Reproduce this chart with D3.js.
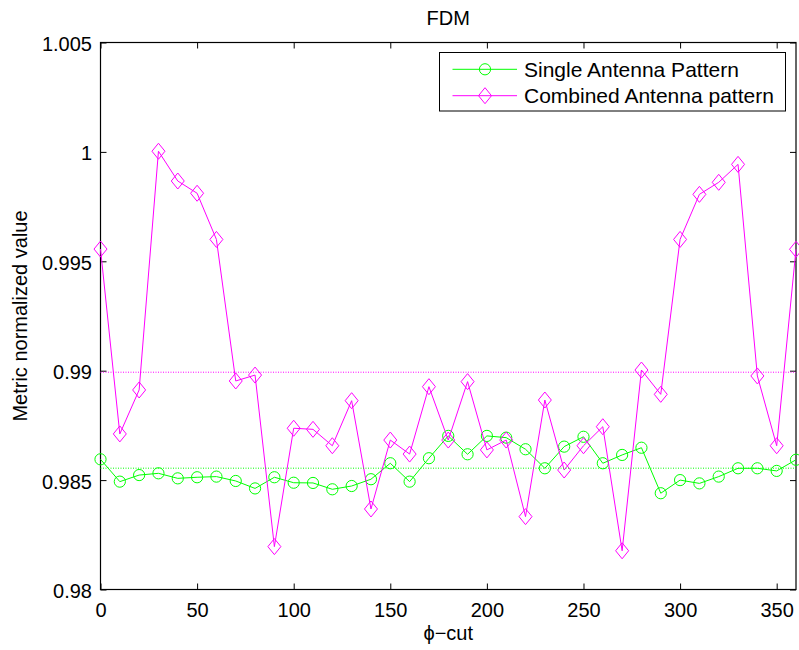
<!DOCTYPE html>
<html>
<head>
<meta charset="utf-8">
<script src="https://cdn.jsdelivr.net/npm/d3@7"></script>
<style>
  html, body { margin: 0; padding: 0; background: #fff; }
  svg { display: block; font-family: "Liberation Sans", Arial, Helvetica, sans-serif; }
</style>
</head>
<body>
<svg id="chart" width="799" height="650"></svg>
<script>
// phi-cut angles (degrees)
const phiCut = [0, 10, 20, 30, 40, 50, 60, 70, 80, 90, 100, 110, 120, 130, 140, 150, 160, 170, 180,
                190, 200, 210, 220, 230, 240, 250, 260, 270, 280, 290, 300, 310, 320, 330, 340, 350, 360];

// Normalized metric, single antenna pattern
const singlePattern = [0.98595, 0.98493, 0.98523, 0.98531, 0.98508, 0.98513, 0.98516, 0.98496, 0.98462,
                       0.98513, 0.98488, 0.98487, 0.98458, 0.98473, 0.98504, 0.98577, 0.98493, 0.98600,
                       0.98702, 0.98618, 0.98702, 0.98694, 0.98641, 0.98554, 0.98653, 0.98698, 0.98577,
                       0.98615, 0.98648, 0.98440, 0.98500, 0.98485, 0.98516, 0.98554, 0.98554, 0.98542,
                       0.98593];

// Normalized metric, combined antenna pattern
const combinedPattern = [0.99556, 0.98711, 0.98912, 1.00003, 0.99867, 0.99811, 0.99600, 0.98953, 0.98980,
                         0.98196, 0.98737, 0.98732, 0.98657, 0.98863, 0.98368, 0.98683, 0.98619, 0.98927,
                         0.98683, 0.98950, 0.98638, 0.98683, 0.98333, 0.98866, 0.98546, 0.98657, 0.98744,
                         0.98177, 0.99003, 0.98892, 0.99600, 0.99806, 0.99861, 0.99943, 0.98976, 0.98657,
                         0.99555];

const xTicks = [0, 50, 100, 150, 200, 250, 300, 350];
const yTicks = [0.98, 0.985, 0.99, 0.995, 1, 1.005];
const yTickLabels = ["0.98", "0.985", "0.99", "0.995", "1", "1.005"];

const seriesNames = ["Single Antenna Pattern", "Combined Antenna pattern"];
const seriesColors = ["#00ff00", "#ff00ff"];

const svg = d3.select("#chart");
const plotLeft = 100.5, plotRight = 796, plotTop = 42.5, plotBottom = 589.5;

const x = d3.scaleLinear().domain([0, 360]).range([plotLeft, plotRight]);
const y = d3.scaleLinear().domain([0.98, 1.005]).range([plotBottom, plotTop]);

const tickLen = 6;
const fontSize = 20;

// Axes box with inward ticks on all four sides
const axisBottom = d3.axisBottom(x).tickValues(xTicks).tickSize(-tickLen).tickFormat(d3.format("d"));
const axisTop = d3.axisTop(x).tickValues(xTicks).tickSize(-tickLen).tickFormat("");
const axisLeft = d3.axisLeft(y).tickValues(yTicks).tickSize(-tickLen)
  .tickFormat((d, i) => yTickLabels[i]);
const axisRight = d3.axisRight(y).tickValues(yTicks).tickSize(-tickLen).tickFormat("");

function styleAxis(g) {
  g.select(".domain").remove();
  g.selectAll(".tick line").attr("stroke", "#000").attr("stroke-width", 1);
  g.selectAll(".tick text").attr("fill", "#000").style("font-size", fontSize + "px")
    .style("font-family", "'Liberation Sans', Arial, sans-serif");
}

svg.append("rect").attr("x", plotLeft).attr("y", plotTop)
  .attr("width", plotRight - plotLeft).attr("height", plotBottom - plotTop).attr("fill", "#fff");

const gB = svg.append("g").attr("transform", `translate(0,${plotBottom})`).call(axisBottom).call(styleAxis);
gB.selectAll(".tick text").attr("dy", null).attr("y", 27);
svg.append("g").attr("transform", `translate(0,${plotTop})`).call(axisTop).call(styleAxis);
const gL = svg.append("g").attr("transform", `translate(${plotLeft},0)`).call(axisLeft).call(styleAxis);
gL.selectAll(".tick text").attr("dy", null).attr("y", 8).attr("x", -8.5);
svg.append("g").attr("transform", `translate(${plotRight},0)`).call(axisRight).call(styleAxis);

svg.append("rect").attr("x", plotLeft).attr("y", plotTop)
  .attr("width", plotRight - plotLeft).attr("height", plotBottom - plotTop)
  .attr("fill", "none").attr("stroke", "#000").attr("stroke-width", 1.2);

// Data
const series = [singlePattern, combinedPattern];
const line = d3.line().x((d, i) => x(phiCut[i])).y(d => y(d));

const diamond = (cx, cy) => `M${cx},${cy - 8}L${cx + 6.5},${cy}L${cx},${cy + 8}L${cx - 6.5},${cy}Z`;

function drawMarkers(g, values, k) {
  if (k === 0) {
    g.selectAll("circle").data(values).join("circle")
      .attr("cx", (d, i) => x(phiCut[i])).attr("cy", d => y(d)).attr("r", 5.6)
      .attr("fill", "none").attr("stroke", seriesColors[k]).attr("stroke-width", 1);
  } else {
    g.selectAll("path").data(values).join("path")
      .attr("d", (d, i) => diamond(x(phiCut[i]), y(d)))
      .attr("fill", "none").attr("stroke", seriesColors[k]).attr("stroke-width", 1);
  }
}

series.forEach((values, k) => {
  svg.append("path").datum(values).attr("d", line)
    .attr("fill", "none").attr("stroke", seriesColors[k]).attr("stroke-width", 1);
  drawMarkers(svg.append("g"), values, k);
});

// Mean level of each series, dotted
series.forEach((values, k) => {
  const m = d3.mean(values);
  svg.append("line").attr("x1", x(0)).attr("x2", x(360)).attr("y1", y(m)).attr("y2", y(m))
    .attr("stroke", seriesColors[k]).attr("stroke-width", 1).attr("stroke-dasharray", "1,1.5");
});

// Legend
const lg = svg.append("g");
lg.append("rect").attr("x", 439.5).attr("y", 52.5).attr("width", 346).attr("height", 58.5)
  .attr("fill", "#fff").attr("stroke", "#000").attr("stroke-width", 1);
const rowY = [69.3, 95.7];
seriesNames.forEach((name, k) => {
  const yy = rowY[k];
  lg.append("line").attr("x1", 452.5).attr("x2", 517).attr("y1", yy).attr("y2", yy)
    .attr("stroke", seriesColors[k]).attr("stroke-width", 1);
  if (k === 0) {
    lg.append("circle").attr("cx", 485).attr("cy", yy).attr("r", 5.6)
      .attr("fill", "none").attr("stroke", seriesColors[k]).attr("stroke-width", 1);
  } else {
    lg.append("path").attr("d", diamond(485, yy))
      .attr("fill", "none").attr("stroke", seriesColors[k]).attr("stroke-width", 1);
  }
  lg.append("text").attr("x", 524).attr("y", yy + 7.2).text(name)
    .style("font-size", "21px").attr("fill", "#000");
});

// Title and axis labels
svg.append("text").attr("x", (plotLeft + plotRight) / 2).attr("y", 25).attr("text-anchor", "middle")
  .style("font-size", fontSize + "px").text("FDM");
svg.append("text").attr("x", (plotLeft + plotRight) / 2).attr("y", 640).attr("text-anchor", "middle")
  .style("font-size", fontSize + "px").text("\u03d5\u2212cut");
svg.append("text").attr("transform", `translate(26.5,${(plotTop + plotBottom) / 2}) rotate(-90)`)
  .attr("text-anchor", "middle").style("font-size", fontSize + "px").text("Metric normalized value");
</script>
</body>
</html>
